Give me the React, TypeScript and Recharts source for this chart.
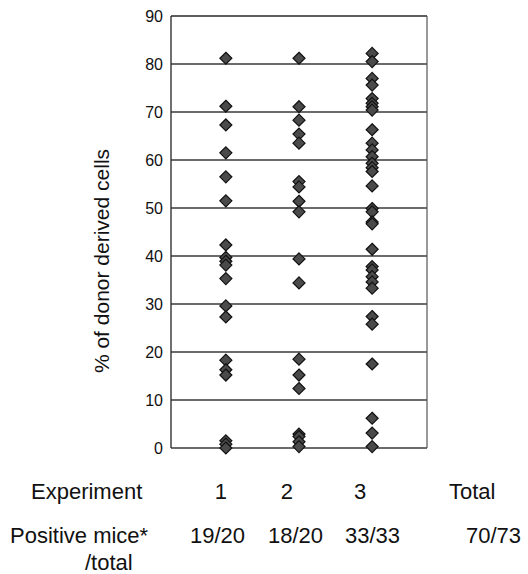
import { ScatterChart, Scatter, XAxis, YAxis, CartesianGrid, ReferenceLine } from "recharts";

// % donor derived cells per mouse
const exp1Values = [81.2, 71.2, 67.3, 61.5, 56.5, 51.5, 42.3, 39.7, 38.9, 38.1, 35.3, 29.6, 27.3, 18.3, 16.3, 15.2, 1.5, 0.8, 0];
const exp2Values = [81.2, 71.1, 68.3, 65.4, 63.5, 55.5, 54.4, 51.4, 49.2, 39.4, 34.4, 18.5, 15.2, 12.4, 2.9, 2.4, 1.3, 0.3];
const exp3Values = [
  82.2, 80.5, 77, 75.6, 72.8, 71.8, 71.1, 70.4, 66.3, 63.5, 62.1, 60.7, 59.3, 58.4, 57.6, 54.6, 49.9, 49.2,
  47.1, 46.7, 41.4, 37.8, 37.1, 35.7, 34.6, 33.3, 27.4, 25.8, 17.5, 6.2, 3.1, 0.3,
];
const yTicks = [0, 10, 20, 30, 40, 50, 60, 70, 80, 90];
const experiments = ["1", "2", "3"];
const positiveMice = ["19/20", "18/20", "33/33"];
const totalPositive = "70/73";

const toPoints = (x: number, values: number[]) => values.map((y) => ({ x, y }));

const FONT = "'Liberation Sans', Arial, sans-serif";

function Diamond(props: any) {
  const { cx, cy } = props;
  const r = 6;
  return (
    <path
      d={`M${cx},${cy - r} L${cx + r},${cy} L${cx},${cy + r} L${cx - r},${cy} Z`}
      fill="#4a4a4a"
      stroke="#111"
      strokeWidth={1.2}
    />
  );
}

const textStyle: React.CSSProperties = {
  position: "absolute",
  fontFamily: FONT,
  fontSize: 22,
  color: "#111",
  whiteSpace: "nowrap",
  lineHeight: "22px",
};

export default function App() {
  const colX = [220.7, 286.7, 360];
  const fracX = [218, 296, 373];
  return (
    <div style={{ position: "absolute", left: 0, top: 0, width: 528, height: 574, background: "#fff" }}>
      <ScatterChart width={528} height={574} margin={{ top: 16, right: 101, bottom: 126, left: 0 }}>
        <CartesianGrid horizontal vertical={false} stroke="#3a3a3a" strokeWidth={1.4} />
        <XAxis type="number" dataKey="x" domain={[0.25, 3.75]} hide />
        <YAxis
          type="number"
          dataKey="y"
          domain={[0, 90]}
          ticks={yTicks}
          width={171}
          tickLine={false}
          axisLine={{ stroke: "#222", strokeWidth: 1.3 }}
          tick={{ fill: "#111", fontSize: 16, fontFamily: FONT }}
          tickMargin={2}
          label={{
            content: () => (
              <text
                x={109}
                y={261}
                transform="rotate(-90 109 261)"
                textAnchor="middle"
                fontFamily={FONT}
                fontSize={21}
                fill="#111"
              >
                % of donor derived cells
              </text>
            ),
          }}
        />
        <ReferenceLine y={90} stroke="#555" strokeWidth={1.2} />
        <ReferenceLine x={3.75} stroke="#555" strokeWidth={1.2} />
        <Scatter data={toPoints(1, exp1Values)} shape={<Diamond />} isAnimationActive={false} />
        <Scatter data={toPoints(2, exp2Values)} shape={<Diamond />} isAnimationActive={false} />
        <Scatter data={toPoints(3, exp3Values)} shape={<Diamond />} isAnimationActive={false} />
      </ScatterChart>

      <div style={{ ...textStyle, left: 31, top: 481 }}>Experiment</div>
      {experiments.map((e, i) => (
        <div key={e} style={{ ...textStyle, left: colX[i] - 6, top: 481 }}>{e}</div>
      ))}
      <div style={{ ...textStyle, left: 449, top: 481 }}>Total</div>

      <div style={{ ...textStyle, left: 10, top: 525 }}>Positive mice*</div>
      {positiveMice.map((p, i) => (
        <div key={p} style={{ ...textStyle, left: fracX[i] - 28, top: 525 }}>{p}</div>
      ))}
      <div style={{ ...textStyle, left: 466, top: 525 }}>{totalPositive}</div>
      <div style={{ ...textStyle, left: 85, top: 552 }}>/total</div>
    </div>
  );
}
